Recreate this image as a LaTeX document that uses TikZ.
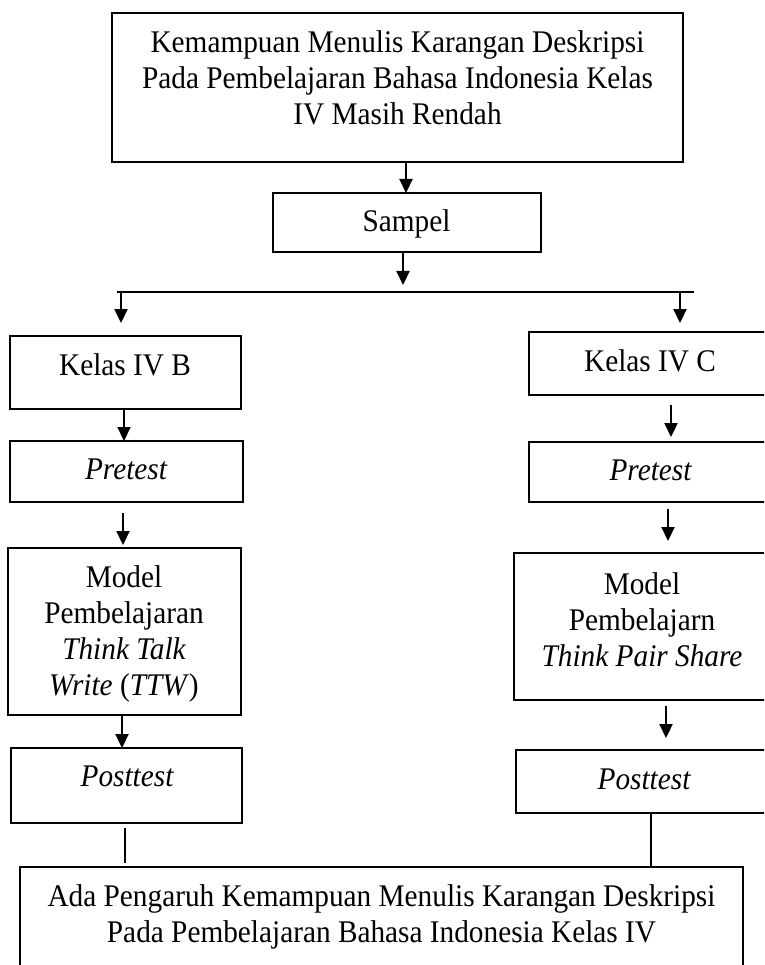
\documentclass[tikz,border=0pt]{standalone}
\usepackage{fontspec}
\setmainfont[FakeStretch=0.93]{Liberation Serif}
\usetikzlibrary{arrows.meta,calc}
\tikzset{
  box/.style={draw, line width=2.7pt, inner sep=0pt, outer sep=0pt, rectangle},
  txt/.style={anchor=base, inner sep=0pt, font=\fontsize{31.5pt}{36pt}\selectfont},
  arr/.style={line width=2.2pt, -{Triangle[length=14pt,width=13pt]}},
  conn/.style={line width=2.2pt},
  splitline/.style={line width=2.7pt}
}
\begin{document}
\begin{tikzpicture}[x=1pt,y=-1pt]
\useasboundingbox (0,0) rectangle (764,965);
\clip (0,0) rectangle (764,965);
% boxes
\node[box, minimum width=571pt, minimum height=149pt] (top) at (397.5,87.5) {};
\node[box, minimum width=268pt, minimum height=59pt] (sampel) at (407,222.5) {};
\node[box, minimum width=231pt, minimum height=73pt] (kelasB) at (125.5,372.5) {};
\node[box, minimum width=233pt, minimum height=61pt] (preL) at (126.5,471.5) {};
\node[box, minimum width=233pt, minimum height=167pt] (modelL) at (124.5,631.5) {};
\node[box, minimum width=231pt, minimum height=75pt] (postL) at (126.5,785.5) {};
\node[box, minimum width=242pt, minimum height=63pt] (kelasC) at (650,363.5) {};
\node[box, minimum width=242pt, minimum height=60pt] (preR) at (650,472) {};
\node[box, minimum width=256pt, minimum height=147pt] (modelR) at (642,626.5) {};
\node[box, minimum width=255pt, minimum height=63pt] (postR) at (643.5,781.5) {};
\node[box, minimum width=723pt, minimum height=113pt] (bottom) at (381.5,923.5) {};
% texts
\node[txt] (t1) at (397.5,53) {Kemampuan Menulis Karangan Deskripsi};
\node[txt] (t2) at (397.5,89) {Pada Pembelajaran Bahasa Indonesia Kelas};
\node[txt] (t3) at (397.5,125) {IV Masih Rendah};
\node[txt] (ts) at (406.5,232) {Sampel};
\node[txt] (tkb) at (125,375) {Kelas IV B};
\node[txt] (tpl) at (126,479) {\itshape Pretest};
\node[txt] (tm1) at (124,587) {Model};
\node[txt] (tm2) at (124,623) {Pembelajaran};
\node[txt] (tm3) at (124,659) {\itshape Think Talk};
\node[txt] (tm4) at (124,695) {\textit{Write} (\textit{TTW})};
\node[txt] (tql) at (127,786) {\itshape Posttest};
\node[txt] (tkc) at (650,371) {Kelas IV C};
\node[txt] (tpr) at (650.5,480) {\itshape Pretest};
\node[txt] (tr1) at (642,594) {Model};
\node[txt] (tr2) at (642,630) {Pembelajarn};
\node[txt] (tr3) at (642,666) {\itshape Think Pair Share};
\node[txt] (tqr) at (644,789) {\itshape Posttest};
\node[txt] (tb1) at (381.5,906) {Ada Pengaruh Kemampuan Menulis Karangan Deskripsi};
\node[txt] (tb2) at (381.5,942) {Pada Pembelajaran Bahasa Indonesia Kelas IV};
% split coordinates
\coordinate (sL) at (117,292);
\coordinate (sR) at (694,292);
\coordinate (dL) at (121,292);
\coordinate (dR) at (680,292);
% connectors
\draw[arr] ([xshift=-1pt]sampel.north |- top.south) -- ([xshift=-1pt]sampel.north);
\draw[arr, shorten >=7pt] ([xshift=-4pt]sampel.south) -- ([xshift=-4pt]sampel.south |- sL);
\draw[splitline] (sL) -- (sR);
\draw[arr, shorten >=13pt] (dL) -- (dL |- kelasB.north);
\draw[arr, shorten >=9pt] (dR) -- (dR |- kelasC.north);
\draw[arr] ([xshift=-1.5pt]kelasB.south) -- ([xshift=-1.5pt]kelasB.south |- preL.north);
\draw[arr, shorten <=11pt, shorten >=3pt] ([xshift=-3.5pt]preL.south) -- ([xshift=-3.5pt]preL.south |- modelL.north);
\draw[arr] ([xshift=-2.5pt]modelL.south) -- ([xshift=-2.5pt]modelL.south |- postL.north);
\draw[conn, shorten <=5pt, shorten >=4pt] ([xshift=-1.5pt]postL.south) -- ([xshift=-1.5pt]postL.south |- bottom.north);
\draw[arr, shorten <=10pt, shorten >=5pt] ([xshift=21pt]kelasC.south) -- ([xshift=21pt]kelasC.south |- preR.north);
\draw[arr, shorten <=7pt, shorten >=12pt] ([xshift=18pt]preR.south) -- ([xshift=18pt]preR.south |- modelR.north);
\draw[arr, shorten <=6pt, shorten >=12pt] ([xshift=24pt]modelR.south) -- ([xshift=24pt]modelR.south |- postR.north);
\draw[conn] ([xshift=7.5pt]postR.south) -- ([xshift=7.5pt]postR.south |- bottom.north);
\end{tikzpicture}
\end{document}
